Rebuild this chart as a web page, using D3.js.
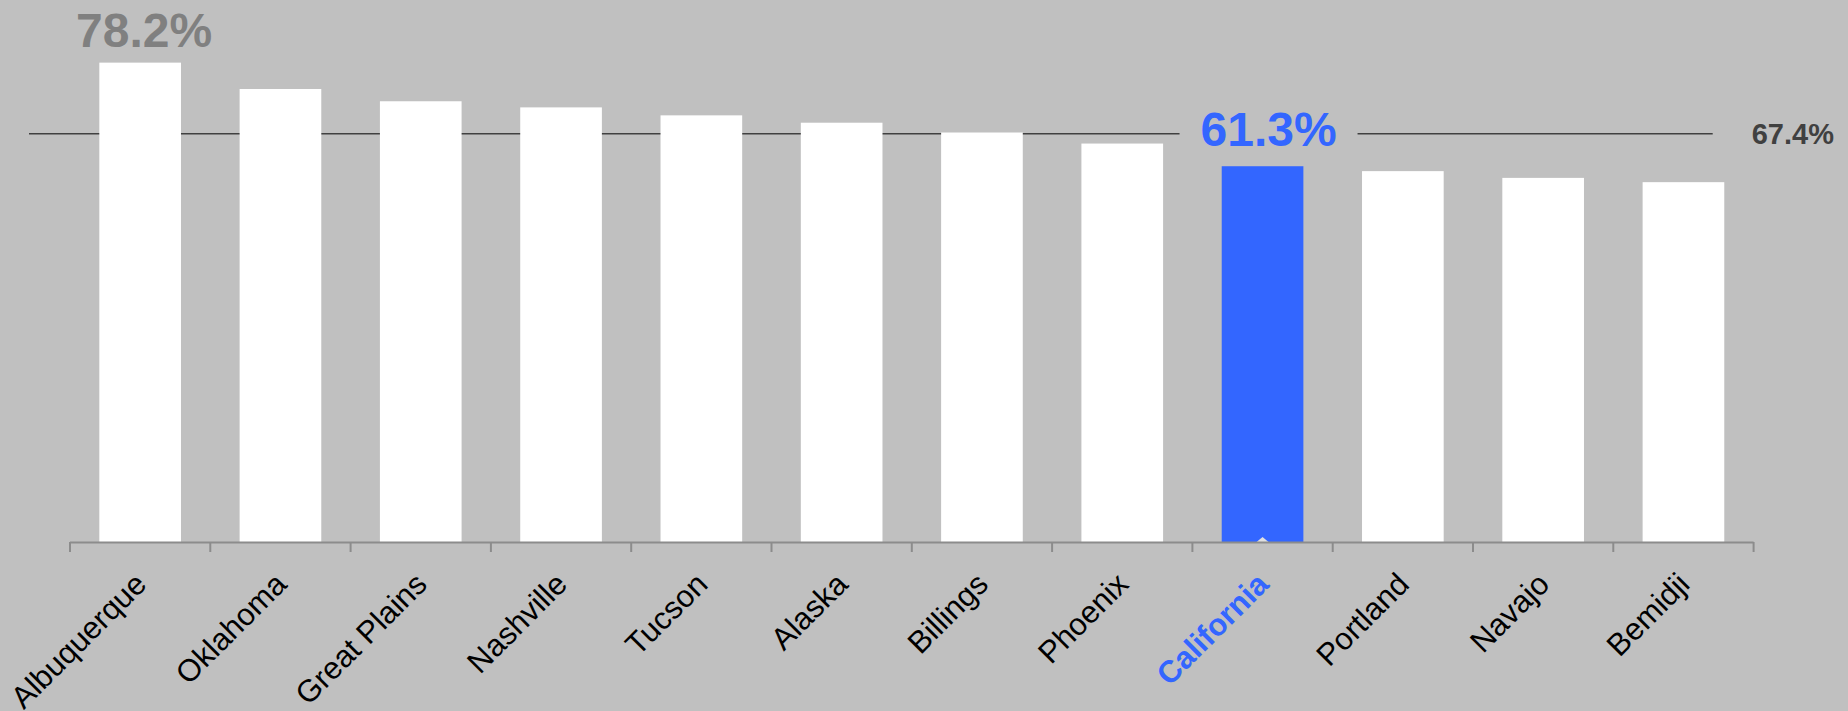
<!doctype html>
<head>
<meta charset="utf-8">
<script src="https://cdn.jsdelivr.net/npm/d3@7/dist/d3.min.js" charset="utf-8"></script>
<style>
body {
  margin: 0;
  background: #c0c0c0;
}
text {
  font-family: "Liberation Sans", Arial, sans-serif;
}
</style>
</head>
<body>
<script>

// data
var areas = ["Albuquerque", "Oklahoma", "Great Plains", "Nashville", "Tucson", "Alaska",
             "Billings", "Phoenix", "California", "Portland", "Navajo", "Bemidji"];
var rates = [78.2, 73.9, 71.9, 70.9, 69.6, 68.4, 66.8, 65.0, 61.3, 60.5, 59.4, 58.7];
var highlight = "California";
var average = 67.4;
// the source draws its average line a little under the 67.4 mark
var averageLineLevel = 66.6;

var W = 1848, H = 711;
var blue = "#3366ff";

var svg = d3.select("body")
  .append("svg")
  .attr("width", W)
  .attr("height", H)
  .style("display", "block");

svg.append("rect").attr("width", W).attr("height", H).style("fill", "#c0c0c0");

var x = d3.scaleBand()
  .domain(areas)
  .range([70, 1753.6])
  .paddingInner(0.418)
  .paddingOuter(0.209);

var y = d3.scaleLinear()
  .domain([0, 80])
  .range([542, 51.6]);

var data = areas.map((a, i) => ({name: a, value: rates[i]}));

// average line (bars sit on top of it)
svg.append("line")
  .attr("x1", 29).attr("x2", 1712.7)
  .attr("y1", y(averageLineLevel)).attr("y2", y(averageLineLevel))
  .style("stroke", "#404040")
  .style("stroke-width", 1.5);

svg.append("text")
  .attr("x", 1751.7)
  .attr("y", y(averageLineLevel) + 10.5)
  .style("font-size", "29px")
  .style("font-weight", "bold")
  .style("fill", "#404040")
  .text(d3.format(".1f")(average) + "%");

svg.selectAll(".bar")
  .data(data)
  .enter().append("rect")
  .attr("class", "bar")
  .attr("x", d => x(d.name))
  .attr("width", x.bandwidth())
  .attr("y", d => y(d.value))
  .attr("height", d => y(0) - y(d.value))
  .style("fill", d => d.name == highlight ? blue : "#ffffff");

// value labels: first bar and highlighted bar
var first = data[0];
svg.append("text")
  .attr("x", x(first.name) + x.bandwidth() / 2 + 4)
  .attr("y", y(first.value) - 16)
  .attr("text-anchor", "middle")
  .style("font-size", "48px")
  .style("font-weight", "bold")
  .style("fill", "#808080")
  .text(first.value.toFixed(1) + "%");

var hi = data.find(d => d.name == highlight);
var hx = x(hi.name) + x.bandwidth() / 2 + 6;
svg.append("rect")
  .attr("x", hx - 89)
  .attr("y", y(hi.value) - 60)
  .attr("width", 178)
  .attr("height", 50)
  .style("fill", "#c0c0c0");
svg.append("text")
  .attr("x", hx)
  .attr("y", y(hi.value) - 20)
  .attr("text-anchor", "middle")
  .style("font-size", "48px")
  .style("font-weight", "bold")
  .style("fill", blue)
  .text(hi.value.toFixed(1) + "%");

// little caret at the base of the highlighted bar
var cx = x(hi.name) + x.bandwidth() / 2;
svg.append("path")
  .attr("d", "M" + (cx - 6) + "," + y(0) + "L" + cx + "," + (y(0) - 5) + "L" + (cx + 6) + "," + y(0) + "Z")
  .style("fill", "#e0e0e0");

// axis: baseline with ticks at band edges
var axis = svg.append("g");
axis.append("line")
  .attr("x1", x.range()[0]).attr("x2", x.range()[1])
  .attr("y1", y(0) + 0.5).attr("y2", y(0) + 0.5)
  .style("stroke", "#8c8c8c")
  .style("stroke-width", 2);
axis.selectAll(".tick")
  .data(d3.range(areas.length + 1))
  .enter().append("line")
  .attr("x1", i => x.range()[0] + i * x.step())
  .attr("x2", i => x.range()[0] + i * x.step())
  .attr("y1", y(0)).attr("y2", y(0) + 10)
  .style("stroke", "#8c8c8c")
  .style("stroke-width", 2);

axis.selectAll(".label")
  .data(data)
  .enter().append("text")
  .attr("class", "label")
  .attr("text-anchor", "end")
  .attr("transform", d => "translate(" + (x(d.name) + x.bandwidth() / 2 + 8) + "," + 586 + ") rotate(-45)")
  .style("font-size", "31px")
  .style("font-weight", d => d.name == highlight ? "bold" : "normal")
  .style("fill", d => d.name == highlight ? blue : "#000000")
  .text(d => d.name);

</script>
</body>
</html>
